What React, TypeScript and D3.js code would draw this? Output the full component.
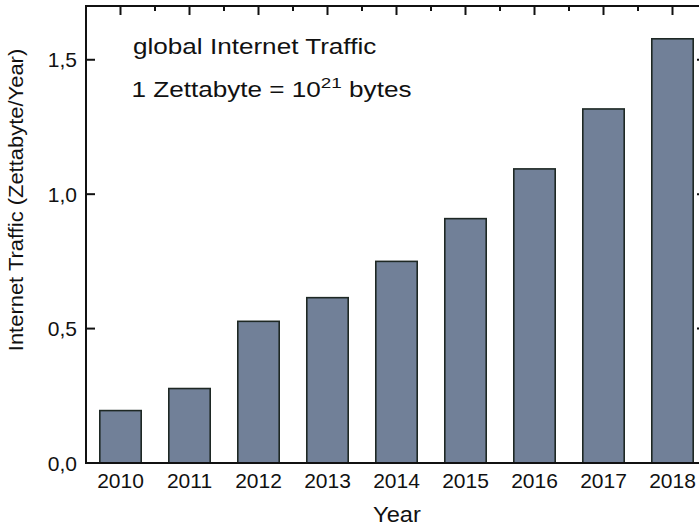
import React from "react";
import * as d3 from "d3";

// Global internet traffic per year, in zettabytes
const years = [2010, 2011, 2012, 2013, 2014, 2015, 2016, 2017, 2018];
const traffic = [0.195, 0.277, 0.527, 0.615, 0.75, 0.909, 1.094, 1.317, 1.578];
const yTicks = [0, 0.5, 1.0, 1.5];
const yTickLabels = ["0,0", "0,5", "1,0", "1,5"];

const W = 699;
const H = 528;
const left = 86;
const right = 707; // frame continues just past the visible edge
const top = 6;
const bottom = 463;
const FONT = "'Liberation Sans', Arial, Helvetica, sans-serif";
const INK = "#111";

// Text drawn with a horizontal stretch factor around its anchor point
function Wide({ x, y, sx, size, anchor = "start", children }: any) {
  return (
    <g transform={`translate(${x}, ${y}) scale(${sx}, 1)`}>
      <text x={0} y={0} fontSize={size} textAnchor={anchor} fill={INK}>
        {children}
      </text>
    </g>
  );
}

export default function App() {
  const x = d3.scaleLinear().domain([2009.5, 2018.5]).range([left, right]);
  const y = d3.scaleLinear().domain([0, 1.7]).range([bottom, top]);
  const barHalf = 0.3;

  const majorX = years;
  const minorX = d3.range(2010.5, 2018.5, 1);

  return (
    <div style={{ position: "absolute", left: 0, top: 0, width: W, height: H, overflow: "hidden", background: "#fff" }}>
      <svg width={W} height={H} style={{ display: "block" }} fontFamily={FONT}>
        {/* bars */}
        {years.map((yr, i) => (
          <rect
            key={yr}
            x={x(yr - barHalf)}
            y={y(traffic[i])}
            width={x(yr + barHalf) - x(yr - barHalf)}
            height={y(0) - y(traffic[i])}
            fill="#718098"
            stroke="#1e2824"
            strokeWidth={1.6}
          />
        ))}

        {/* frame */}
        <rect x={left} y={top} width={right - left} height={bottom - top} fill="none" stroke={INK} strokeWidth={2} />

        {/* top axis ticks, pointing inward */}
        {majorX.map((v) => (
          <line key={"tM" + v} x1={x(v)} x2={x(v)} y1={top} y2={top + 9} stroke={INK} strokeWidth={2} />
        ))}
        {minorX.map((v) => (
          <line key={"tm" + v} x1={x(v)} x2={x(v)} y1={top} y2={top + 5} stroke={INK} strokeWidth={2} />
        ))}

        {/* left and right axis ticks */}
        {yTicks.slice(1).map((v) => (
          <g key={"yt" + v}>
            <line x1={left} x2={left + 9} y1={y(v)} y2={y(v)} stroke={INK} strokeWidth={2} />
            <line x1={right - 10} x2={right} y1={y(v)} y2={y(v)} stroke={INK} strokeWidth={2} />
          </g>
        ))}

        {/* y tick labels */}
        {yTicks.map((v, i) => (
          <text key={"yl" + v} x={77} y={y(v)} dy="0.36em" textAnchor="end" fontSize={21} fill={INK}>
            {yTickLabels[i]}
          </text>
        ))}

        {/* x tick labels */}
        {years.map((yr) => (
          <text key={"xl" + yr} x={x(yr)} y={488} textAnchor="middle" fontSize={21} fill={INK}>
            {yr}
          </text>
        ))}

        {/* axis titles */}
        <Wide x={397} y={522} sx={1.1} size={21.5} anchor="middle">
          Year
        </Wide>
        <g transform={`translate(23, 200) rotate(-90) scale(1.045, 1)`}>
          <text x={0} y={0} textAnchor="middle" fontSize={21} fill={INK}>
            Internet Traffic (Zettabyte/Year)
          </text>
        </g>

        {/* annotation */}
        <Wide x={133} y={54} sx={1.22} size={21.4}>
          global Internet Traffic
        </Wide>
        <Wide x={131.5} y={96.5} sx={1.22} size={21.4}>
          1 Zettabyte = 10
          <tspan dy={-8.5} fontSize={15.5}>21</tspan>
          <tspan dy={8.5}> bytes</tspan>
        </Wide>
      </svg>
    </div>
  );
}
